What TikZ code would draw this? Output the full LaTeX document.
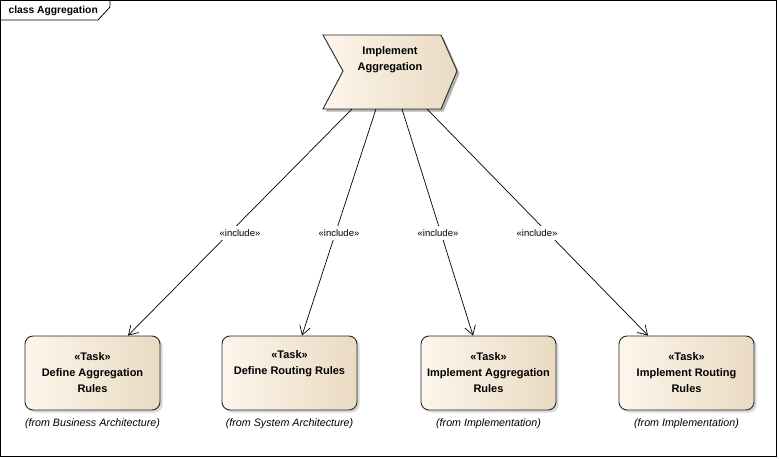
\documentclass[tikz,border=0pt]{standalone}
\usepackage{fontspec}
\setmainfont{Liberation Sans}
\usetikzlibrary{arrows.meta, shadows}
\definecolor{taskleft}{RGB}{253,246,236}
\definecolor{taskright}{RGB}{234,218,194}

\begin{document}
\begin{tikzpicture}[x=1pt, y=-1pt,
  taskbox/.style={draw=black!85, line width=0.9pt, rounded corners=8pt,
    minimum width=135pt, minimum height=74pt, left color=taskleft, right color=taskright,
    align=center, font=\bfseries\fontsize{11}{16}\selectfont,
    drop shadow={shadow xshift=2.5pt, shadow yshift=-2.5pt, fill=black!30}},
  fromtext/.style={font=\itshape\fontsize{10.7}{12}\selectfont},
  incl/.style={font=\fontsize{9.5}{11}\selectfont, fill=white, inner xsep=1pt, inner ysep=4pt},
  dep/.style={-{Straight Barb[length=9pt, width=11pt]}, line width=0.7pt}]
\useasboundingbox (0,0) rectangle (779,458);

% Frame
\draw[line width=0.8pt] (0.5,0.5) rectangle (776,456);
\draw[line width=0.8pt] (0.5,20) -- (98,20) -- (110,7) -- (110,0.5);
\node[anchor=west, font=\bfseries\fontsize{10.3}{12}\selectfont] (title) at (5,11) {class Aggregation};

% Use case
\fill[black!30] (325.5,37.5) -- (443.5,37.5) -- (459.5,73.5) -- (443.5,111.5) -- (325.5,111.5) -- (345.5,73.5) -- cycle;
\shade[left color=taskleft, right color=taskright, draw=black!85, line width=0.9pt]
  (323,35) -- (441,35) -- (457,71) -- (441,109) -- (323,109) -- (343,71) -- cycle;
\node[align=center, font=\bfseries\fontsize{11}{16}\selectfont] (impl) at (390,60) {Implement\\Aggregation};
\coordinate (s1) at (352,109);
\coordinate (s2) at (376,109);
\coordinate (s3) at (402,109);
\coordinate (s4) at (427,109);

% Tasks
\node[taskbox] (t1) at (92.5,373) {«Task»\\Define Aggregation\\Rules};
\node[taskbox] (t2) at (289.5,373) {«Task»\\Define Routing Rules\\\strut};
\node[taskbox] (t3) at (488.5,373) {«Task»\\Implement Aggregation\\Rules};
\node[taskbox] (t4) at (686.5,373) {«Task»\\Implement Routing\\Rules};

\node[fromtext] (f1) at (92.5,424) {(from Business Architecture)};
\node[fromtext] (f2) at (289.5,424) {(from System Architecture)};
\node[fromtext] (f3) at (488.5,424) {(from Implementation)};
\node[fromtext] (f4) at (686.5,424) {(from Implementation)};

% Includes
\draw[dep] (s1) -- ([xshift=35.5pt]t1.north);
\draw[dep] (s2) -- ([xshift=12.5pt]t2.north);
\draw[dep] (s3) -- ([xshift=-15.5pt]t3.north);
\draw[dep] (s4) -- ([xshift=-38.5pt]t4.north);

\node[incl] (i1) at (240,233) {«include»};
\node[incl] (i2) at (339,233) {«include»};
\node[incl] (i3) at (438,233) {«include»};
\node[incl] (i4) at (537,233) {«include»};
\end{tikzpicture}
\end{document}
